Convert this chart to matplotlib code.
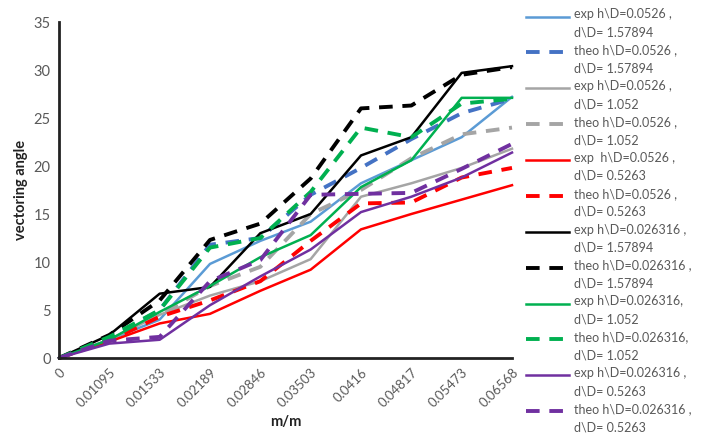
import numpy as np
import matplotlib.pyplot as plt
from matplotlib.legend_handler import HandlerLine2D

plt.rcParams["font.family"] = ["Lato", "DejaVu Sans"]

categories = ["0", "0.01095", "0.01533", "0.02189", "0.02846",
              "0.03503", "0.0416", "0.04817", "0.05473", "0.06568"]

exp_0526_157 = [0, 1.9, 4.0, 9.8, 12.2, 14.2, 18.2, 20.6, 23.0, 27.2]
theo_0526_157 = [0, 2.0, 5.0, 11.8, 12.5, 17.0, 19.8, 22.8, 25.5, 27.0]
exp_0526_105 = [0, 1.9, 4.5, 6.5, 8.0, 10.3, 16.8, 18.2, 19.8, 21.8]
theo_0526_105 = [0, 1.9, 4.5, 7.5, 9.5, 15.0, 17.5, 20.8, 23.3, 24.0]
exp_0526_052 = [0, 1.7, 3.6, 4.6, 7.0, 9.2, 13.4, 15.0, 16.5, 18.0]
theo_0526_052 = [0, 1.8, 4.3, 6.0, 8.0, 12.2, 16.1, 16.2, 18.8, 19.8]
exp_0263_157 = [0, 2.4, 6.7, 7.4, 13.0, 15.0, 21.1, 23.0, 29.7, 30.4]
theo_0263_157 = [0, 2.4, 6.0, 12.3, 14.0, 18.7, 26.0, 26.3, 29.5, 30.3]
exp_0263_105 = [0, 1.9, 4.8, 7.5, 10.5, 12.8, 17.8, 20.6, 27.1, 27.1]
theo_0263_105 = [0, 2.2, 5.0, 11.5, 12.5, 17.3, 24.0, 23.0, 26.5, 27.0]
exp_0263_052 = [0, 1.5, 1.9, 5.5, 8.5, 11.3, 15.2, 16.8, 18.8, 21.4]
theo_0263_052 = [0, 1.8, 2.2, 8.0, 10.2, 17.0, 17.1, 17.2, 19.7, 22.3]

labels = [
    "exp h\\D=0.0526 ,\nd\\D= 1.57894",
    "theo h\\D=0.0526 ,\nd\\D= 1.57894",
    "exp h\\D=0.0526 ,\nd\\D= 1.052",
    "theo h\\D=0.0526 ,\nd\\D= 1.052",
    "exp  h\\D=0.0526 ,\nd\\D= 0.5263",
    "theo h\\D=0.0526 ,\nd\\D= 0.5263",
    "exp h\\D=0.026316 ,\nd\\D= 1.57894",
    "theo h\\D=0.026316 ,\nd\\D= 1.57894",
    "exp h\\D=0.026316,\nd\\D= 1.052",
    "theo h\\D=0.026316,\nd\\D= 1.052",
    "exp h\\D=0.026316 ,\nd\\D= 0.5263",
    "theo h\\D=0.026316 ,\nd\\D= 0.5263",
]
series = [exp_0526_157, theo_0526_157, exp_0526_105, theo_0526_105,
          exp_0526_052, theo_0526_052, exp_0263_157, theo_0263_157,
          exp_0263_105, theo_0263_105, exp_0263_052, theo_0263_052]
colors = ["#5B9BD5", "#4472C4", "#A5A5A5", "#A5A5A5", "#FF0000", "#FF0000",
          "#000000", "#000000", "#00B050", "#00B050", "#7030A0", "#7030A0"]


class FirstLineHandler(HandlerLine2D):
    """Legend line drawn level with the first line of a two-line label."""

    def create_artists(self, legend, orig_handle, xdescent, ydescent,
                       width, height, fontsize, trans):
        artists = super().create_artists(legend, orig_handle, xdescent, ydescent,
                                         width, height, fontsize, trans)
        for a in artists:
            a.set_ydata(np.asarray(a.get_ydata()) + 0.6 * fontsize)
        return artists


fig = plt.figure(figsize=(7.07, 4.42), dpi=100)
ax = fig.add_axes([59 / 707, 1 - 358 / 442, (512 - 59) / 707, (358 - 22) / 442])

x = np.arange(len(categories))
for k, (vals, lab, col) in enumerate(zip(series, labels, colors)):
    if k % 2 == 0:
        ax.plot(x, vals, color=col, lw=1.8, label=lab, clip_on=False)
    else:
        ax.plot(x, vals, color=col, lw=2.8, ls=(0, (3.5, 2.5)), label=lab,
                clip_on=False)

ax.set_xlim(0, len(categories) - 1)
ax.set_ylim(0, 35)
ax.set_yticks(np.arange(0, 36, 5))
ax.set_xticks(x)
ax.set_xticklabels(categories, rotation=45, ha="right", rotation_mode="anchor")
ax.tick_params(axis="both", length=0, labelcolor="#595959", pad=6)
ax.tick_params(axis="y", labelsize=10.5)
ax.tick_params(axis="x", labelsize=9.5)
for spine in ("top", "right"):
    ax.spines[spine].set_visible(False)
for spine in ("left", "bottom"):
    ax.spines[spine].set_linewidth(2)
    ax.spines[spine].set_color("#222222")
ax.set_ylabel("vectoring angle", fontsize=10.5, fontweight="bold", color="#222222")
ax.set_xlabel("m/m", fontsize=10.5, fontweight="bold", color="#222222", labelpad=4)

leg = fig.legend(loc="upper left", bbox_to_anchor=(520 / 707, 0.995), frameon=False,
                 fontsize=9, handlelength=3.4, labelspacing=0.47,
                 handletextpad=0.4, borderaxespad=0.1, labelcolor="#595959",
                 handler_map={plt.Line2D: FirstLineHandler()})
for t in leg.get_texts():
    t.set_linespacing(1.6)

fig.savefig("out.png", dpi=100)
